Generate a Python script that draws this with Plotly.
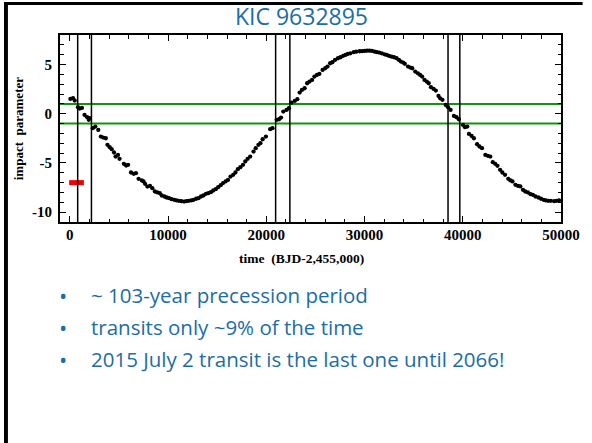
import plotly.graph_objects as go

# ---- data ----
time_bjd = [60, 330, 500, 830, 1000, 1230, 1500, 1760, 1930, 2000, 2330, 2600, 2900,
            3160, 3400, 3660, 3830, 4060, 4260, 4500, 4660, 4900, 5060, 5500, 5730, 5930,
            6230, 6500, 6730, 7000, 7330, 7500, 7660, 7900, 8160, 8400, 8660, 8900, 9160,
            9360, 9630, 9860, 10100, 10360, 10630, 10860, 11100, 11360, 11630, 11860,
            12100, 12360, 12600, 12860, 13100, 13360, 13600, 13860, 14100, 14360, 14600,
            14860, 15100, 15360, 15600, 15860, 16100, 16360, 16630, 16860, 17100, 17360,
            17630, 17860, 18100, 18360, 18700, 18930, 19200, 19400, 19630, 19960, 20400,
            20630, 21060, 21300, 21500, 21730, 22060, 22300, 22560, 22900, 23160, 23400,
            23630, 23900, 24160, 24400, 24660, 24900, 25160, 25400, 25730, 26000, 26230,
            26500, 26730, 27000, 27300, 27560, 27830, 28060, 28300, 28560, 28900, 29160,
            29500, 29760, 30030, 30260, 30500, 30760, 31030, 31260, 31500, 31760, 32030,
            32260, 32500, 32760, 33000, 33260, 33500, 33700, 33930, 34100, 34430, 34660,
            34860, 35160, 35430, 35660, 35860, 36100, 36330, 36530, 36760, 37030, 37260,
            37530, 37700, 37930, 38260, 38500, 38760, 39100, 39360, 39600, 40030, 40230,
            40460, 40630, 40900, 41130, 41460, 41700, 41960, 42300, 42560, 42800, 43060,
            43300, 43530, 43800, 44030, 44300, 44630, 44860, 45060, 45360, 45630, 45860,
            46130, 46360, 46630, 46900, 47130, 47400, 47700, 47960, 48230, 48460, 48700,
            48960, 49300, 49560, 49800]
impact_b = [1.51, 1.58, 1.34, 0.66, 0.52, 0.59, -0.12, -0.35, -0.62, -0.45, -1.47, -1.30, -1.64,
            -2.32, -2.42, -2.49, -3.16, -3.40, -3.60, -3.94, -4.35, -4.18, -4.58, -5.09, -5.26, -5.19,
            -5.97, -6.11, -6.04, -6.61, -6.78, -6.88, -7.12, -7.40, -7.33, -7.56, -7.90, -8.00, -8.07,
            -8.31, -8.41, -8.51, -8.58, -8.68, -8.75, -8.81, -8.85, -8.88, -8.92, -8.88,
            -8.85, -8.81, -8.75, -8.64, -8.58, -8.41, -8.31, -8.14, -8.07, -7.97, -7.80,
            -7.66, -7.46, -7.26, -7.05, -6.88, -6.72, -6.38, -6.21, -5.97, -5.63, -5.43,
            -5.19, -4.85, -4.58, -4.35, -3.84, -3.50, -3.16, -2.99, -2.59, -2.32, -1.57,
            -1.47, -0.62, -0.56, -0.39, 0.22, 0.39, 0.56, 1.13, 1.30, 1.48, 2.15,
            2.42, 2.59, 3.10, 3.27, 3.44, 3.78, 3.94, 4.05, 4.45, 4.62, 4.79,
            5.13, 5.23, 5.47, 5.64, 5.74, 5.88, 5.98, 6.08, 6.14, 6.25, 6.31,
            6.35, 6.36, 6.38, 6.41, 6.41, 6.38, 6.31, 6.25, 6.21, 6.14, 6.04,
            5.98, 5.87, 5.80, 5.74, 5.64, 5.47, 5.30, 5.20, 5.07, 4.79, 4.69,
            4.62, 4.28, 4.11, 3.94, 3.78, 3.44, 3.27, 3.10, 2.70, 2.52, 2.35,
            1.81, 1.57, 1.41, 0.90, 0.66, 0.39, -0.22, -0.35, -0.56, -1.14, -1.37,
            -1.30, -2.05, -2.25, -2.49, -3.10, -3.33, -3.50, -4.18, -4.28, -4.35, -4.92,
            -5.09, -5.29, -5.70, -5.97, -6.21, -6.61, -6.78, -6.88, -7.22, -7.33, -7.39,
            -7.73, -7.90, -8.00, -8.17, -8.24, -8.41, -8.51, -8.64, -8.75, -8.81, -8.85,
            -8.85, -8.88, -8.85, -8.81]
transit_edges = [800, 2200, 20950, 22400, 38500, 39700]
b_limits = [-1, 1]
kepler_span = [-70, 1430]
kepler_b = -7
x_ticks = [0, 10000, 20000, 30000, 40000, 50000]
x_ticklabels = ["0", "10000", "20000", "30000", "40000", "50000"]
y_ticks = [-10, -5, 0, 5]
y_ticklabels = ["-10", "-5", "0", "5"]
bullets = ["~ 103-year precession period",
           "transits only ~9% of the time",
           "2015 July 2 transit is the last one until 2066!"]
title_text = "KIC 9632895"

W, H = 592, 443
L, R, T, B = 60, 570, 35, 222  # plot area in pixels


def px(xp):
    return (xp - L) / (R - L)


def py(yp):
    return (B - yp) / (B - T)


BLUE = "#1C6DA3"
SERIF = dict(family="Liberation Serif", size=15, color="black", weight="bold")

fig = go.Figure()

for b in b_limits:
    fig.add_trace(go.Scatter(x=[-1000, 50000], y=[b, b], mode="lines",
                             line=dict(color="#139113", width=2), hoverinfo="skip"))

fig.add_trace(go.Scatter(x=time_bjd, y=impact_b, mode="markers",
                         marker=dict(color="black", size=4.3, line=dict(width=0))))

fig.add_trace(go.Scatter(x=kepler_span, y=[kepler_b, kepler_b], mode="lines",
                         line=dict(color="#F00000", width=5)))

shapes = []
for xe in transit_edges:
    shapes.append(dict(type="line", xref="x", yref="paper", x0=xe, x1=xe, y0=0, y1=1,
                       line=dict(color="black", width=1.5)))
# slide border (left and top)
shapes.append(dict(type="rect", xref="paper", yref="paper", x0=px(3), x1=px(7),
                   y0=py(443), y1=py(2), fillcolor="black", line=dict(width=0), layer="above"))
shapes.append(dict(type="rect", xref="paper", yref="paper", x0=px(3), x1=px(592),
                   y0=py(5), y1=py(2), fillcolor="black", line=dict(width=0), layer="above"))

annotations = [
    dict(text=title_text, xref="paper", yref="paper", x=px(306), y=py(15.5),
         xanchor="center", yanchor="middle", showarrow=False,
         font=dict(family="Open Sans", size=23, color=BLUE)),
    dict(text="impact\u00a0\u00a0parameter", xref="paper", yref="paper", x=px(18), y=py(128.5),
         xanchor="center", yanchor="middle", showarrow=False, textangle=-90,
         font=dict(family="Liberation Serif", size=13, color="black", weight="bold")),
    dict(text="time\u00a0\u00a0(BJD-2,455,000)", xref="paper", yref="paper", x=px(306), y=py(258),
         xanchor="center", yanchor="middle", showarrow=False,
         font=dict(family="Liberation Serif", size=13.5, color="black", weight="bold")),
]
for i, txt in enumerate(bullets):
    yc = 295 + 32 * i
    annotations.append(dict(text="•", xref="paper", yref="paper", x=px(57), y=py(yc),
                            xanchor="left", yanchor="middle", showarrow=False,
                            font=dict(family="Open Sans", size=22, color=BLUE)))
    annotations.append(dict(text=txt, xref="paper", yref="paper", x=px(90), y=py(yc),
                            xanchor="left", yanchor="middle", showarrow=False,
                            font=dict(family="Open Sans", size=20.5, color=BLUE)))

fig.update_layout(
    width=W, height=H, margin=dict(l=L, r=W - R, t=T, b=H - B),
    paper_bgcolor="white", plot_bgcolor="white", showlegend=False,
    shapes=shapes, annotations=annotations,
    xaxis=dict(range=[-1000, 50000], tickvals=x_ticks, ticktext=x_ticklabels,
               ticks="inside", ticklen=6, tickwidth=1.2, tickcolor="black",
               minor=dict(dtick=2000, tick0=0, ticks="inside", ticklen=3.5, tickwidth=1.2,
                          tickcolor="black", showgrid=False),
               showline=True, linewidth=2, linecolor="black", mirror="allticks",
               showgrid=False, zeroline=False, tickfont=SERIF, ticklabelstandoff=-2),
    yaxis=dict(range=[-11, 8], tickvals=y_ticks, ticktext=y_ticklabels,
               ticks="inside", ticklen=6, tickwidth=1.2, tickcolor="black",
               minor=dict(dtick=1, tick0=0, ticks="inside", ticklen=3.5, tickwidth=1.2,
                          tickcolor="black", showgrid=False),
               showline=True, linewidth=2, linecolor="black", mirror="allticks",
               showgrid=False, zeroline=False, tickfont=SERIF, ticklabelstandoff=3),
)

fig.write_html("out.html")
